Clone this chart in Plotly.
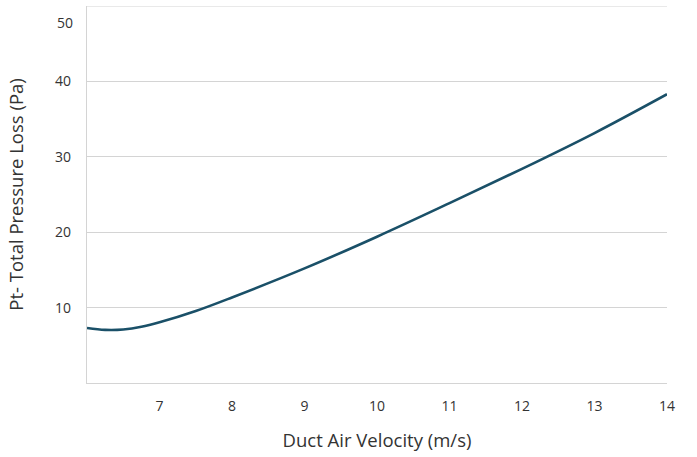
import plotly.graph_objects as go

velocity = [6.0, 6.25, 6.5, 6.75, 7.0, 7.5, 8.0, 9.0, 10.0, 11.0, 12.0, 13.0, 14.0]
pressure_loss = [7.3, 7.05, 7.1, 7.45, 8.05, 9.55, 11.35, 15.2, 19.4, 23.85, 28.4, 33.15, 38.3]

y_ticks = [10, 20, 30, 40, 50]
y_labels = ["10", "20", "30", "40", ""]
x_ticks = [7, 8, 9, 10, 11, 12, 13, 14]

FONT = "Open Sans"
TXT = "#333333"
GRID = "#d4d4d4"

fig = go.Figure()
fig.add_trace(go.Scatter(
    x=velocity, y=pressure_loss, mode="lines",
    line=dict(color="#1a5068", width=2.6, shape="spline", smoothing=1.0),
    hoverinfo="skip", showlegend=False,
))

fig.update_layout(
    width=697, height=457,
    margin=dict(l=87, r=30, t=6, b=74),
    paper_bgcolor="white", plot_bgcolor="white",
    font=dict(family=FONT, color=TXT, size=14),
    xaxis=dict(
        range=[6, 14], tickvals=x_ticks, showgrid=False, zeroline=False,
        showline=True, linecolor=GRID, linewidth=1.2,
        ticks="", ticklabelstandoff=10,
        tickfont=dict(size=14, color=TXT),
        title=dict(text="Duct Air Velocity (m/s)", font=dict(size=18.5, color=TXT), standoff=20),
    ),
    yaxis=dict(
        range=[0, 50], tickvals=y_ticks, ticktext=y_labels,
        showgrid=True, gridcolor=GRID, gridwidth=1.2, zeroline=False,
        showline=True, linecolor=GRID, linewidth=1.2,
        ticks="", ticklabelstandoff=12,
        tickfont=dict(size=14, color=TXT),
        title=dict(text="Pt- Total Pressure Loss (Pa)", font=dict(size=18.5, color=TXT), standoff=26),
    ),
)

# top gridline at the upper tick (plotly hides gridlines on the range edge)
fig.add_hline(y=y_ticks[-1], line=dict(color=GRID, width=1.2), layer="below")

fig.add_annotation(
    x=0, xref="paper", y=y_ticks[-1], yref="y", text="50", showarrow=False,
    xanchor="right", yanchor="middle", xshift=-12, yshift=-16,
    font=dict(size=14, color=TXT, family=FONT),
)

fig.write_html("out.html", config={"displayModeBar": False})

with open("out.html", "r", encoding="utf-8") as f:
    html = f.read()
html = html.replace("<head>", "<head><style>html,body{margin:0;padding:0;overflow:hidden;}</style>", 1)
with open("out.html", "w", encoding="utf-8") as f:
    f.write(html)
